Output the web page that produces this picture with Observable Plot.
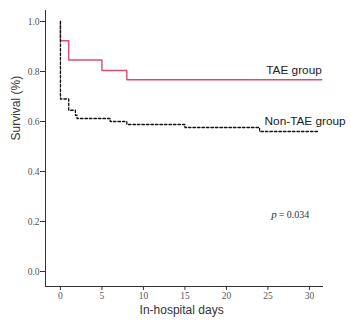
<!DOCTYPE html>
<html>
<head>
<meta charset="utf-8">
<script src="https://cdn.jsdelivr.net/npm/d3@7"></script>
<script src="https://cdn.jsdelivr.net/npm/@observablehq/plot@0.6"></script>
<style>
  html, body { margin: 0; padding: 0; background: #fff; }
  svg { display: block; }
</style>
</head>
<body>
<div id="chart"></div>
<script>
// Kaplan–Meier steps
const taeDays = [0, 0, 1, 5, 8, 31.5];
const taeSurv = [1, 0.923, 0.846, 0.804, 0.767, 0.767];

const nonTaeDays = [0, 0, 1, 1.8, 2, 6, 8, 15, 24, 31];
const nonTaeSurv = [1, 0.69, 0.645, 0.625, 0.612, 0.60, 0.588, 0.576, 0.56, 0.56];

const xTicks = [0, 5, 10, 15, 20, 25, 30];
const yTicks = [0, 0.2, 0.4, 0.6, 0.8, 1.0];

const groupLabels = ["TAE group", "Non-TAE group"];
const groupLabelX = [24.8, 24.6];
const groupLabelY = [0.804, 0.60];

const pLabel = "p";
const pValueText = "= 0.034";

const tae = taeDays.map((d, i) => ({day: d, surv: taeSurv[i]}));
const nonTae = nonTaeDays.map((d, i) => ({day: d, surv: nonTaeSurv[i]}));
const labels = groupLabels.map((t, i) => ({text: t, x: groupLabelX[i], y: groupLabelY[i]}));

const xMin = -1.8, xMax = 31.7, yMin = -0.06, yMax = 1.044;
const serif = "'Liberation Serif', 'Times New Roman', serif";
const sans = "'Liberation Sans', Arial, sans-serif";

const chart = Plot.plot({
  width: 351,
  height: 321,
  marginLeft: 45,
  marginRight: 28,
  marginTop: 10,
  marginBottom: 35,
  x: {domain: [xMin, xMax]},
  y: {domain: [yMin, yMax]},
  style: {fontFamily: serif, fontSize: "9px", color: "#444", background: "#fff"},
  marks: [
    Plot.ruleX([xMin], {stroke: "#333", strokeWidth: 1}),
    Plot.ruleY([yMin], {stroke: "#333", strokeWidth: 1}),
    Plot.axisY(yTicks, {
      tickSize: 5, tickFormat: d3.format(".1f"), label: null,
      fontFamily: serif, fontSize: 9.5, fill: "#555", stroke: "#333", tickPadding: 1
    }),
    Plot.axisX(xTicks, {
      anchor: "bottom", tickSize: 4, label: null, tickFormat: d => d,
      fontFamily: serif, fontSize: 9.5, fill: "#555", stroke: "#333", tickPadding: 2
    }),
    Plot.line(tae, {x: "day", y: "surv", curve: "step-after", stroke: "#d94d6c", strokeWidth: 1.4}),
    Plot.line(nonTae, {x: "day", y: "surv", curve: "step-after", stroke: "#111", strokeWidth: 1.3, strokeDasharray: "2.5,2"}),
    Plot.text(labels, {x: "x", y: "y", text: "text", textAnchor: "start", fontFamily: sans, fontSize: 11.8, fill: "#222"}),
    Plot.text([pLabel], {x: () => 25.4, y: () => 0.228, text: d => d, textAnchor: "start", fontFamily: serif, fontStyle: "italic", fontSize: 11, fill: "#333"}),
    Plot.text([pValueText], {x: () => 26.3, y: () => 0.228, text: d => d, textAnchor: "start", fontFamily: serif, fontSize: 10, fill: "#333"}),
    Plot.text(["Survival (%)"], {frameAnchor: "left", y: () => 0.524, dx: -29, rotate: -90, text: d => d, fontFamily: sans, fontSize: 12, fill: "#333"}),
    Plot.text(["In-hospital days"], {frameAnchor: "bottom", x: () => 14.6, dy: 27, text: d => d, fontFamily: sans, fontSize: 12, fill: "#333"})
  ]
});
document.getElementById("chart").appendChild(chart);
</script>
</body>
</html>
